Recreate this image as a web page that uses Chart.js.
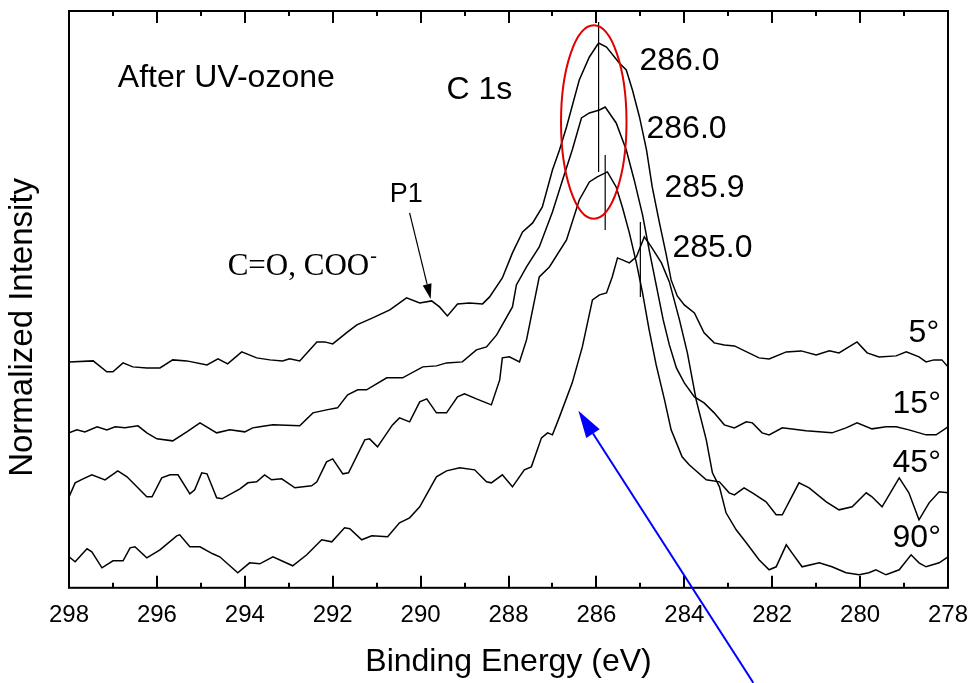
<!DOCTYPE html>
<html>
<head>
<meta charset="utf-8">
<script src="https://cdn.jsdelivr.net/npm/chart.js@4.4.1/dist/chart.umd.min.js"></script>
<style>
  html, body { margin: 0; padding: 0; background: #fff; }
</style>
</head>
<body>
<canvas id="xps" width="970" height="683"></canvas>
<script>
// C 1s spectra after UV-ozone (binding energy in eV, intensity in arbitrary units)
var E_5 = [298.00, 297.45, 297.14, 297.00, 296.77, 296.55, 296.23, 295.93, 295.64, 295.32, 294.86, 294.61, 294.39, 294.07, 293.73, 293.43, 293.14, 292.98, 292.75, 292.36, 292.18, 292.00, 291.66, 291.45, 291.09, 290.70, 290.32, 290.02, 289.75, 289.57, 289.39, 289.16, 288.89, 288.59, 288.43, 288.14, 287.91, 287.68, 287.45, 287.23, 287.00, 286.84, 286.68, 286.39, 286.16, 285.95, 285.77, 285.48, 285.32, 285.18, 285.02, 284.86, 284.73, 284.57, 284.41, 284.30, 284.16, 284.00, 283.77, 283.55, 283.32, 283.09, 282.86, 282.30, 282.07, 281.68, 281.34, 281.00, 280.70, 280.48, 280.07, 279.84, 279.57, 279.18, 278.95, 278.66, 278.50, 278.32, 278.14, 278.00];
var I_5 = [226, 227, 216, 216, 225, 221, 220, 220, 228, 227, 223, 229, 224, 236, 230, 228, 227, 229, 227, 246, 246, 244, 256, 263, 270, 278, 290, 285, 287, 281, 272, 284, 285, 284, 291, 310, 335, 356, 365, 381, 418, 438, 461, 508, 531, 545, 541, 525, 518, 498, 471, 438, 401, 366, 333, 308, 292, 283, 275, 255, 245, 243, 242, 230, 229, 236, 237, 233, 237, 235, 246, 235, 231, 232, 236, 231, 226, 228, 228, 221];

var E_15 = [298.00, 297.82, 297.64, 297.36, 297.14, 296.95, 296.73, 296.43, 296.23, 296.00, 295.64, 295.32, 295.02, 294.64, 294.34, 294.00, 293.82, 293.66, 293.36, 292.75, 292.45, 292.14, 291.89, 291.66, 291.43, 291.23, 290.77, 290.41, 289.95, 289.64, 289.41, 289.05, 288.73, 288.50, 288.27, 287.91, 287.82, 287.59, 287.30, 287.00, 286.77, 286.55, 286.34, 286.16, 285.93, 285.80, 285.55, 285.32, 285.14, 284.95, 284.80, 284.64, 284.48, 284.34, 284.18, 284.00, 283.77, 283.55, 283.32, 283.09, 282.86, 282.59, 282.45, 282.23, 282.07, 281.77, 281.23, 280.64, 280.32, 280.07, 279.73, 279.41, 279.18, 278.89, 278.50, 278.27, 278.00];
var I_15 = [155, 158, 156, 161, 158, 161, 160, 162, 155, 149, 147, 156, 165, 155, 158, 156, 160, 161, 163, 162, 175, 178, 180, 193, 198, 198, 210, 210, 221, 222, 225, 226, 238, 241, 253, 281, 303, 321, 341, 376, 408, 438, 470, 475, 478, 481, 465, 438, 408, 373, 338, 303, 268, 243, 220, 205, 191, 185, 175, 163, 160, 166, 165, 155, 153, 160, 157, 155, 160, 165, 159, 161, 161, 158, 153, 153, 161];

var E_45 = [298.00, 297.86, 297.68, 297.48, 297.18, 296.89, 296.68, 296.23, 296.11, 295.89, 295.70, 295.52, 295.25, 295.14, 294.98, 294.86, 294.64, 294.52, 294.11, 293.93, 293.73, 293.55, 293.39, 293.16, 292.86, 292.48, 292.36, 292.14, 292.00, 291.77, 291.64, 291.27, 291.16, 290.98, 290.64, 290.48, 290.25, 290.02, 289.86, 289.64, 289.41, 289.16, 289.00, 288.73, 288.39, 288.20, 288.14, 287.98, 287.75, 287.59, 287.30, 287.07, 286.68, 286.39, 286.16, 285.98, 285.75, 285.55, 285.41, 285.25, 285.09, 284.95, 284.80, 284.64, 284.45, 284.30, 284.16, 284.05, 283.89, 283.50, 283.20, 282.98, 282.86, 282.64, 282.45, 282.14, 281.91, 281.77, 281.39, 281.16, 280.77, 280.48, 280.18, 279.86, 279.73, 279.50, 279.11, 278.89, 278.66, 278.43, 278.20, 278.00];
var I_45 = [91, 105, 109, 113, 108, 117, 111, 91, 91, 110, 113, 113, 94, 98, 115, 114, 90, 89, 99, 105, 106, 113, 108, 109, 100, 102, 106, 126, 129, 114, 115, 148, 149, 141, 163, 170, 166, 186, 189, 175, 175, 191, 194, 189, 183, 208, 230, 231, 226, 248, 311, 321, 348, 388, 406, 411, 416, 401, 381, 355, 325, 295, 258, 223, 188, 158, 143, 131, 123, 108, 106, 95, 93, 100, 95, 86, 73, 73, 105, 100, 86, 78, 81, 95, 91, 81, 110, 95, 68, 85, 96, 95];

var E_90 = [298.00, 297.86, 297.59, 297.48, 297.25, 297.00, 296.77, 296.61, 296.50, 296.23, 295.93, 295.55, 295.48, 295.25, 295.02, 294.73, 294.57, 294.16, 293.89, 293.66, 293.36, 292.91, 292.59, 292.25, 292.02, 291.73, 291.61, 291.34, 291.11, 290.75, 290.48, 290.25, 290.02, 289.64, 289.41, 289.11, 288.77, 288.50, 288.39, 288.14, 287.91, 287.64, 287.48, 287.25, 287.11, 287.00, 286.84, 286.55, 286.32, 286.09, 285.93, 285.77, 285.64, 285.52, 285.41, 285.25, 285.09, 284.91, 284.75, 284.52, 284.34, 284.11, 283.93, 283.73, 283.50, 283.36, 283.20, 283.05, 282.82, 282.59, 282.30, 282.07, 281.91, 281.68, 281.55, 281.32, 280.93, 280.64, 280.32, 280.02, 279.80, 279.64, 279.41, 279.11, 278.84, 278.66, 278.50, 278.20, 278.00];
var I_90 = [31, 26, 39, 36, 20, 27, 27, 40, 41, 30, 38, 52, 53, 41, 41, 34, 31, 15, 25, 24, 31, 22, 33, 48, 46, 60, 59, 48, 52, 51, 65, 70, 81, 111, 117, 120, 118, 106, 105, 113, 101, 118, 121, 150, 155, 153, 171, 205, 241, 288, 293, 295, 311, 330, 328, 325, 331, 351, 341, 325, 306, 268, 235, 188, 148, 115, 101, 75, 58, 45, 28, 18, 21, 43, 35, 21, 25, 21, 15, 13, 15, 18, 13, 18, 33, 25, 21, 25, 31];

// peak position markers (energy, bottom, top)
var markE = [285.95, 285.80, 285.00];
var markLo = [416, 358, 291];
var markHi = [566, 433, 366];

// text on the plot, placed in data units
var notes = [
  {text: 'After UV-ozone', e: 296.89, v: 501, align: 'left'},
  {text: 'C 1s', e: 289.41, v: 489, align: 'left'},
  {text: 'P1', e: 290.70, v: 386, align: 'left', size: 27},
  {text: '286.0', e: 285.02, v: 518, align: 'left'},
  {text: '286.0', e: 284.86, v: 450, align: 'left'},
  {text: '285.9', e: 284.45, v: 391, align: 'left'},
  {text: '285.0', e: 284.27, v: 331, align: 'left'},
  {text: '5°', e: 278.20, v: 246, align: 'right'},
  {text: '15°', e: 278.16, v: 175, align: 'right'},
  {text: '45°', e: 278.16, v: 116, align: 'right'},
  {text: '90°', e: 278.16, v: 41, align: 'right'}
];

Chart.defaults.font.family = "'Liberation Sans', Arial, sans-serif";
Chart.defaults.color = '#000';

function pairs(xs, ys) {
  return xs.map(function (v, i) { return {x: v, y: ys[i]}; });
}

var spectra = [
  {label: '5°', e: E_5, i: I_5},
  {label: '15°', e: E_15, i: I_15},
  {label: '45°', e: E_45, i: I_45},
  {label: '90°', e: E_90, i: I_90}
];

var datasets = spectra.map(function (s) {
  return {label: s.label, data: pairs(s.e, s.i), borderColor: '#000', borderWidth: 1.5,
          pointRadius: 0, tension: 0, fill: false};
});
markE.forEach(function (e, k) {
  datasets.push({label: 'mark' + k, data: [{x: e, y: markLo[k]}, {x: e, y: markHi[k]}],
                 borderColor: '#000', borderWidth: 1.2, pointRadius: 0});
});

function arrow(ctx, x0, y0, x1, y1, color, width, headLen, headHalf) {
  var ang = Math.atan2(y1 - y0, x1 - x0);
  var bx = x1 - headLen * Math.cos(ang), by = y1 - headLen * Math.sin(ang);
  ctx.strokeStyle = color; ctx.fillStyle = color; ctx.lineWidth = width;
  ctx.beginPath(); ctx.moveTo(x0, y0); ctx.lineTo(bx, by); ctx.stroke();
  ctx.beginPath();
  ctx.moveTo(x1, y1);
  ctx.lineTo(bx + headHalf * Math.sin(ang), by - headHalf * Math.cos(ang));
  ctx.lineTo(bx - headHalf * Math.sin(ang), by + headHalf * Math.cos(ang));
  ctx.closePath(); ctx.fill();
}

var decor = {
  id: 'decor',
  afterDatasetsDraw: function (chart) {
    var ctx = chart.ctx, a = chart.chartArea, x = chart.scales.x, y = chart.scales.y;
    ctx.save();

    // frame + inward ticks on top and bottom
    ctx.strokeStyle = '#000'; ctx.lineWidth = 2;
    ctx.strokeRect(a.left, a.top, a.right - a.left, a.bottom - a.top);
    x.ticks.forEach(function (t) {
      var px = Math.round(x.getPixelForValue(t.value));
      var len = t.value % 2 === 0 ? 12 : 5;
      ctx.beginPath();
      ctx.moveTo(px, a.bottom); ctx.lineTo(px, a.bottom - len);
      ctx.moveTo(px, a.top); ctx.lineTo(px, a.top + len);
      ctx.stroke();
    });

    // red ellipse around the 286.0 peaks
    var cx = x.getPixelForValue(286.06), cy = y.getPixelForValue(466);
    var rx = Math.abs(x.getPixelForValue(286.06 - 0.745) - cx);
    var ry = Math.abs(y.getPixelForValue(466 + 96.7) - cy);
    ctx.strokeStyle = '#e00000'; ctx.lineWidth = 2;
    ctx.beginPath(); ctx.ellipse(cx, cy, rx, ry, 0, 0, Math.PI * 2); ctx.stroke();

    // P1 arrow
    arrow(ctx, x.getPixelForValue(290.25), y.getPixelForValue(375),
          x.getPixelForValue(289.77), y.getPixelForValue(289), '#000', 1.2, 15, 4.5);
    // blue arrow from below the axis
    arrow(ctx, x.getPixelForValue(282.43), y.getPixelForValue(-95),
          x.getPixelForValue(286.41), y.getPixelForValue(177), '#0000ff', 2, 27, 8);

    // labels
    ctx.fillStyle = '#000';
    ctx.textBaseline = 'alphabetic';
    notes.forEach(function (n) {
      ctx.font = (n.size || 32) + "px 'Liberation Sans', Arial, sans-serif";
      ctx.textAlign = n.align;
      ctx.fillText(n.text, x.getPixelForValue(n.e), y.getPixelForValue(n.v));
    });
    ctx.textAlign = 'left';
    ctx.font = "31px 'Liberation Serif', 'Times New Roman', serif";
    var tx = x.getPixelForValue(294.39), ty = y.getPixelForValue(313);
    ctx.fillText('C=O, COO', tx, ty);
    var w = ctx.measureText('C=O, COO').width;
    ctx.font = "20px 'Liberation Serif', 'Times New Roman', serif";
    ctx.fillText('-', tx + w + 1, ty - 13);

    // y axis title
    ctx.font = "33px 'Liberation Sans', Arial, sans-serif";
    ctx.textAlign = 'center'; ctx.textBaseline = 'middle';
    ctx.translate(a.left - 46, (a.top + a.bottom) / 2 + 28);
    ctx.rotate(-Math.PI / 2);
    ctx.fillText('Normalized Intensity', 0, 0);
    ctx.restore();
  }
};

new Chart(document.getElementById('xps'), {
  type: 'line',
  data: {datasets: datasets},
  options: {
    responsive: false,
    animation: false,
    layout: {padding: {left: 69, right: 22, top: 11, bottom: 0}},
    plugins: {legend: {display: false}, tooltip: {enabled: false}},
    scales: {
      x: {
        type: 'linear', reverse: true, min: 278, max: 298,
        grid: {display: false, drawTicks: false},
        border: {display: false},
        ticks: {stepSize: 1, autoSkip: false, maxRotation: 0, padding: 13, font: {size: 24},
                callback: function (v) { return v % 2 === 0 ? String(v) : ''; }},
        title: {display: true, text: 'Binding Energy (eV)', font: {size: 32}, padding: {top: 0, bottom: 2}},
        afterFit: function (scale) { scale.paddingLeft = 0; scale.paddingRight = 0; }
      },
      y: {display: false, min: 0, max: 577}
    }
  },
  plugins: [decor]
});
</script>
</body>
</html>
